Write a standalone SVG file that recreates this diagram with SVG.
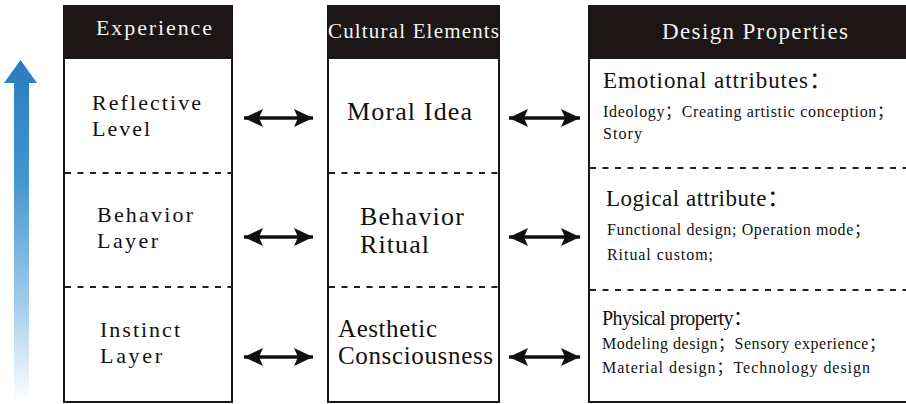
<svg xmlns="http://www.w3.org/2000/svg" width="906" height="404" viewBox="0 0 906 404" font-family="'Liberation Serif', 'Times New Roman', 'Noto Sans CJK SC', serif">
  <defs>
    <linearGradient id="riseFill" gradientUnits="userSpaceOnUse" x1="0" y1="60" x2="0" y2="402">
      <stop offset="0" stop-color="#2a7bc0"/>
      <stop offset="0.35" stop-color="#4496d0"/>
      <stop offset="0.7" stop-color="#9fcaea"/>
      <stop offset="1" stop-color="#ffffff"/>
    </linearGradient>
    <marker id="head" viewBox="0 0 19 18" markerWidth="19" markerHeight="18" refX="19" refY="9" markerUnits="userSpaceOnUse" orient="auto-start-reverse">
      <path d="M0,0 L19,9 L0,18 L4,9 z" fill="#111"/>
    </marker>
    <style>
      .body { fill: #fff; stroke: #1a1a1a; stroke-width: 2; }
      .head { fill: #1c1716; }
      .sep { stroke: #222; stroke-width: 2; stroke-dasharray: 6 6.5; }
      .title { fill: #f2f2f2; }
      .t { fill: #111; }
      .link { stroke: #111; stroke-width: 3.5; fill: none; marker-start: url(#head); marker-end: url(#head); }
    </style>
  </defs>

  <rect width="906" height="404" fill="#fff"/>

  <!-- upward gradient arrow -->
  <g id="rise">
    <polygon points="4,83 20.5,60 37,83 29,83 29,402 14,402 14,83" fill="url(#riseFill)"/>
  </g>

  <!-- Experience column -->
  <g id="experience">
    <rect class="body" x="64" y="58" width="168" height="344"/>
    <rect class="head" x="63" y="5" width="170" height="53"/>
    <text class="title" x="96" y="35" font-size="22" textLength="116" lengthAdjust="spacing">Experience</text>
    <line class="sep" x1="65" y1="173" x2="231" y2="173"/>
    <line class="sep" x1="65" y1="287" x2="231" y2="287"/>
    <text class="t" font-size="22" x="92" y="110" textLength="109" lengthAdjust="spacing">Reflective</text>
    <text class="t" font-size="22" x="92" y="136" textLength="58" lengthAdjust="spacing">Level</text>
    <text class="t" font-size="22" x="97" y="222" textLength="96" lengthAdjust="spacing">Behavior</text>
    <text class="t" font-size="22" x="97" y="248" textLength="61" lengthAdjust="spacing">Layer</text>
    <text class="t" font-size="22" x="100" y="337" textLength="80" lengthAdjust="spacing">Instinct</text>
    <text class="t" font-size="22" x="100" y="363" textLength="62" lengthAdjust="spacing">Layer</text>
  </g>

  <!-- Cultural Elements column -->
  <g id="cultural">
    <rect class="body" x="328" y="58" width="171" height="344"/>
    <rect class="head" x="327" y="5" width="173" height="53"/>
    <text class="title" x="328" y="38" font-size="21" textLength="171" lengthAdjust="spacing">Cultural Elements</text>
    <line class="sep" x1="329" y1="173" x2="498" y2="173"/>
    <line class="sep" x1="329" y1="287" x2="498" y2="287"/>
    <text class="t" font-size="26" x="347" y="120" textLength="125" lengthAdjust="spacing">Moral Idea</text>
    <text class="t" font-size="26" x="360" y="225" textLength="104" lengthAdjust="spacing">Behavior</text>
    <text class="t" font-size="26" x="360" y="253" textLength="69" lengthAdjust="spacing">Ritual</text>
    <text class="t" font-size="25" x="338" y="337" textLength="99" lengthAdjust="spacing">Aesthetic</text>
    <text class="t" font-size="25" x="338" y="364" textLength="155" lengthAdjust="spacing">Consciousness</text>
  </g>

  <!-- Design Properties column -->
  <g id="design">
    <rect class="body" x="589" y="58" width="320" height="344"/>
    <rect class="head" x="588" y="5" width="318" height="53"/>
    <text class="title" x="662" y="39" font-size="23" textLength="186" lengthAdjust="spacing">Design Properties</text>
    <line class="sep" x1="590" y1="168" x2="906" y2="168"/>
    <line class="sep" x1="590" y1="290" x2="906" y2="290"/>
    <text class="t" font-size="23" x="603" y="88" textLength="229" lengthAdjust="spacing">Emotional attributes：</text>
    <text class="t" font-size="16" x="603" y="117" textLength="290" lengthAdjust="spacing">Ideology；Creating artistic conception；</text>
    <text class="t" font-size="16" x="603" y="139" textLength="39" lengthAdjust="spacing">Story</text>
    <text class="t" font-size="23" x="606" y="206" textLength="184" lengthAdjust="spacing">Logical attribute：</text>
    <text class="t" font-size="16" x="607" y="235" textLength="263" lengthAdjust="spacing">Functional design; Operation mode；</text>
    <text class="t" font-size="16" x="607" y="260" textLength="106" lengthAdjust="spacing">Ritual custom;</text>
    <text class="t" font-size="20" x="602" y="325" textLength="151" lengthAdjust="spacing">Physical property：</text>
    <text class="t" font-size="16" x="602" y="349" textLength="283" lengthAdjust="spacing">Modeling design；Sensory experience；</text>
    <text class="t" font-size="16" x="602" y="373" textLength="268" lengthAdjust="spacing">Material design；Technology design</text>
  </g>

  <!-- two-way links between columns -->
  <g id="links">
    <line class="link" x1="244" y1="118" x2="313" y2="118"/>
    <line class="link" x1="244" y1="237" x2="313" y2="237"/>
    <line class="link" x1="244" y1="357" x2="313" y2="357"/>
    <line class="link" x1="509" y1="118" x2="580" y2="118"/>
    <line class="link" x1="509" y1="237" x2="580" y2="237"/>
    <line class="link" x1="509" y1="357" x2="580" y2="357"/>
  </g>
</svg>
